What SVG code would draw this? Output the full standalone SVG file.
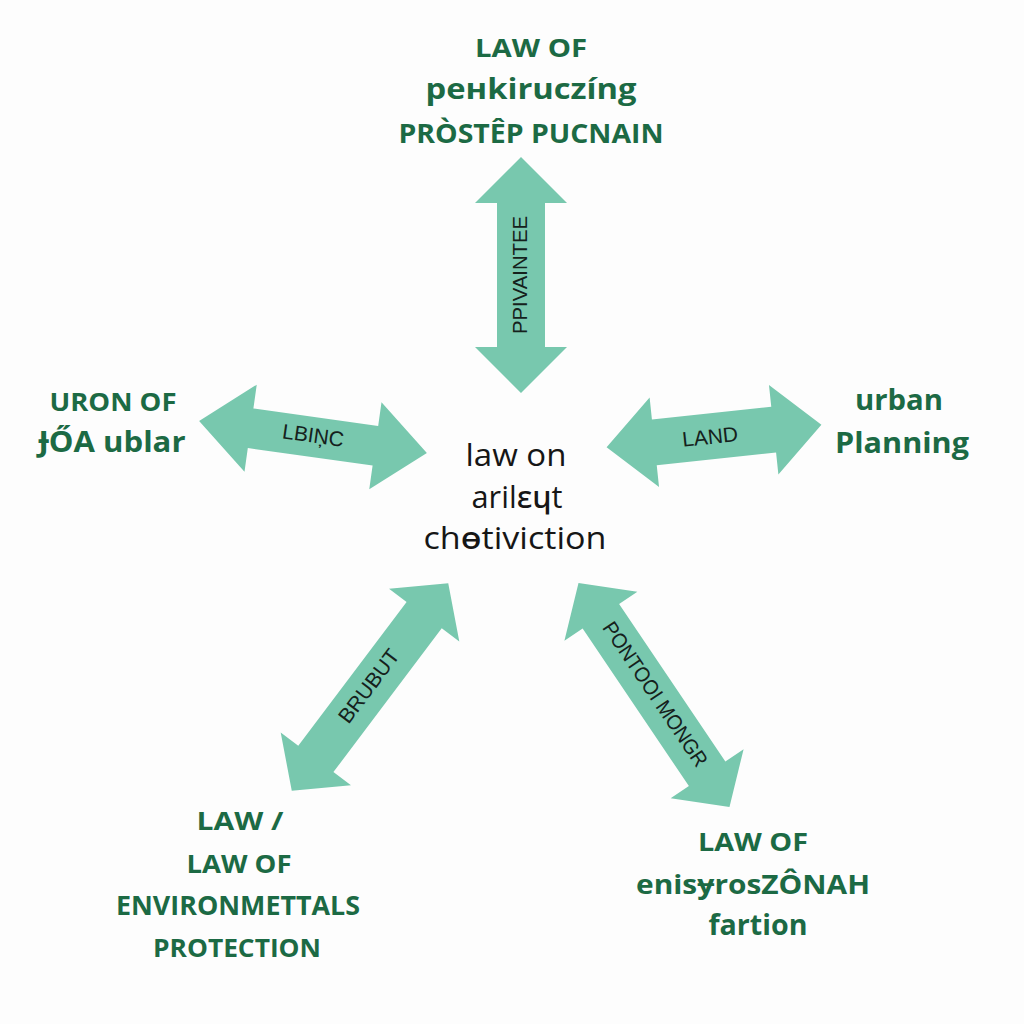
<svg xmlns="http://www.w3.org/2000/svg" width="1024" height="1024" viewBox="0 0 1024 1024">
<style>
.arr{fill:#78c8ae}
.lbl{font-family:"Liberation Sans",Arial,sans-serif;font-size:21px;fill:#15211c;text-anchor:middle;dominant-baseline:middle}
.g{font-family:"Open Sans","Noto Sans",sans-serif;font-weight:700;fill:#1c6a44;text-anchor:middle}
.c{font-family:"Open Sans","Noto Sans",sans-serif;font-weight:500;fill:#161616;text-anchor:middle;font-size:31px}
</style>
<rect width="1024" height="1024" fill="#fdfdfd"/>
<g id="connectors">
  <g id="arrow-top" transform="translate(521,275) rotate(90)">
    <polygon class="arr" points="-118,0 -72,-46 -72,-24 72,-24 72,-46 118,0 72,46 72,24 -72,24 -72,46"/>
    <text class="lbl" transform="rotate(180)" x="0" y="0" textLength="118" lengthAdjust="spacingAndGlyphs">PPIVAINTEE</text>
  </g>
  <g id="arrow-left" transform="translate(313,437) rotate(8)">
    <polygon class="arr" points="-115,0 -63,-44 -63,-20 63,-20 63,-44 115,0 63,44 63,20 -63,20 -63,44"/>
    <text class="lbl" x="0" y="0">LBIŅC</text>
  </g>
  <g id="arrow-right" transform="translate(714,436) rotate(-6)">
    <polygon class="arr" points="-108,0 -60,-45 -60,-23 60,-23 60,-45 108,0 60,45 60,23 -60,23 -60,45"/>
    <text class="lbl" x="-4" y="2">LAND</text>
  </g>
  <g id="arrow-bl" transform="translate(370,687) rotate(-53)">
    <polygon class="arr" points="-130,0 -90,-44 -90,-22 90,-22 90,-44 130,0 90,44 90,22 -90,22 -90,44"/>
    <text class="lbl" x="0" y="0">BRUBUT</text>
  </g>
  <g id="arrow-br" transform="translate(654,695) rotate(56)">
    <polygon class="arr" points="-135,0 -95,-44 -95,-22 95,-22 95,-44 135,0 95,44 95,22 -95,22 -95,44"/>
    <text class="lbl" x="0" y="0" textLength="170" lengthAdjust="spacingAndGlyphs">PONTOOI MONGR</text>
  </g>
</g>
<g id="node-center">
  <text class="c" x="516" y="466" textLength="101" lengthAdjust="spacingAndGlyphs">law on</text>
  <text class="c" x="517" y="508" textLength="91" lengthAdjust="spacingAndGlyphs">arilɛɥt</text>
  <text class="c" x="515" y="549" textLength="183" lengthAdjust="spacingAndGlyphs">chɵtiviction</text>
</g>
<g id="node-top">
  <text class="g" x="531" y="57" font-size="25" textLength="112" lengthAdjust="spacingAndGlyphs">LAW OF</text>
  <text class="g" x="531" y="99" font-size="28" textLength="211" lengthAdjust="spacingAndGlyphs">peнkiruczíng</text>
  <text class="g" x="531" y="143" font-size="26" textLength="265" lengthAdjust="spacingAndGlyphs">PRÒSTÊP PUCNAIN</text>
</g>
<g id="node-left">
  <text class="g" x="113" y="411" font-size="25" textLength="127" lengthAdjust="spacingAndGlyphs">URON OF</text>
  <text class="g" x="112" y="452" font-size="28" textLength="147" lengthAdjust="spacingAndGlyphs">ɈŐA ublar</text>
</g>
<g id="node-right">
  <text class="g" x="899" y="410" font-size="29" textLength="88" lengthAdjust="spacingAndGlyphs">urban</text>
  <text class="g" x="902" y="453" font-size="29" textLength="134" lengthAdjust="spacingAndGlyphs">Planning</text>
</g>
<g id="node-bottom-left">
  <text class="g" x="240" y="830" font-size="25" textLength="87" lengthAdjust="spacingAndGlyphs">LAW /</text>
  <text class="g" x="239" y="873" font-size="25" textLength="105" lengthAdjust="spacingAndGlyphs">LAW OF</text>
  <text class="g" x="238" y="915" font-size="26" textLength="244" lengthAdjust="spacingAndGlyphs">ENVIRONMETTALS</text>
  <text class="g" x="237" y="957" font-size="25" textLength="168" lengthAdjust="spacingAndGlyphs">PROTECTION</text>
</g>
<g id="node-bottom-right">
  <text class="g" x="753" y="851" font-size="25" textLength="110" lengthAdjust="spacingAndGlyphs">LAW OF</text>
  <text class="g" x="753" y="894" font-size="27" textLength="234" lengthAdjust="spacingAndGlyphs">enisɏrosZÔNAH</text>
  <text class="g" x="758" y="935" font-size="29" textLength="99" lengthAdjust="spacingAndGlyphs">fartion</text>
</g>
</svg>
